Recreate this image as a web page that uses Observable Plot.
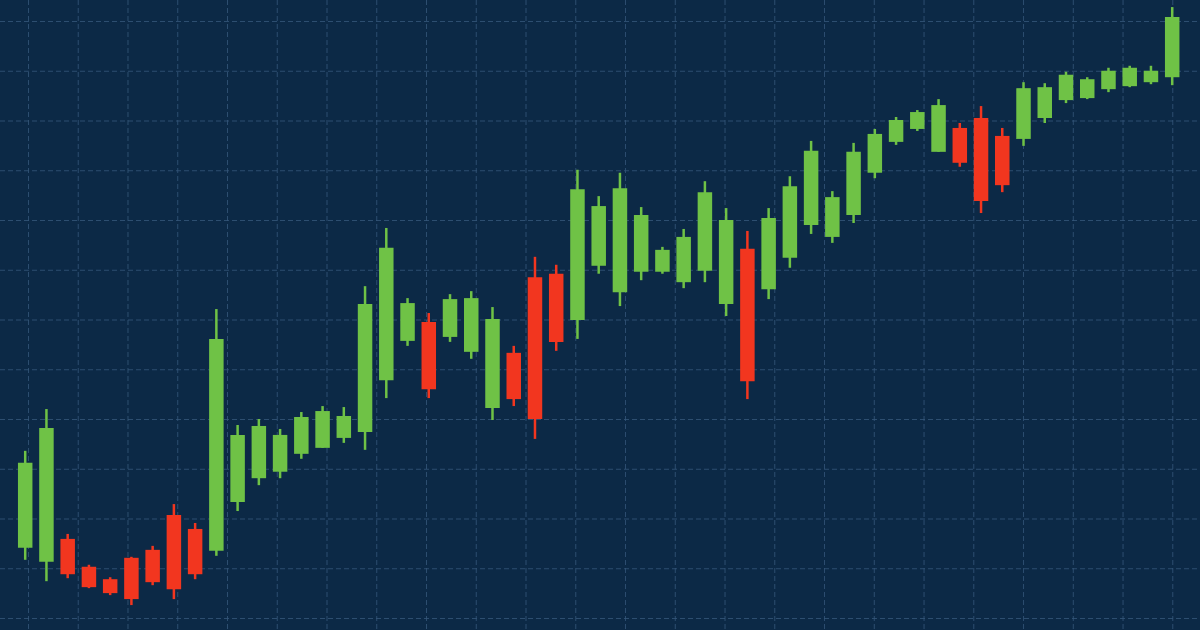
<!DOCTYPE html>
<html>
<head>
<meta charset="utf-8">
<script src="https://cdn.jsdelivr.net/npm/d3@7"></script>
<script src="https://cdn.jsdelivr.net/npm/@observablehq/plot@0.6"></script>
<style>
  html, body { margin: 0; padding: 0; background: #0c2946; overflow: hidden; }
  #chart svg { display: block; }
</style>
</head>
<body>
<div id="chart"></div>
<script>
// Trading days
const days = d3.range(1, 56);
// Open / high / low / close prices
const open  = [114.1,111.3,115.9,110.3,107.8,112.1,113.7,120.7,117.9,113.5,
               123.3,128.1,129.4,133.0,134.2,136.2,137.4,147.8,155.7,159.5,
               156.5,153.5,142.2,153.3,168.5,169.2,159.9,170.8,165.5,169.6,
               169.6,167.5,169.8,163.1,174.2,166.1,172.4,179.0,176.6,181.0,
               189.5,195.7,198.3,193.7,198.5,200.5,196.9,196.3,200.5,204.1,
               204.5,206.3,206.9,207.7,208.7];
const high  = [133.6,142.0,116.9,110.7,108.2,112.3,114.5,122.9,119.1,162.1,
               138.8,140.0,138.0,141.4,142.6,142.4,166.7,178.4,164.3,161.3,
               165.1,165.7,162.5,154.7,172.6,171.0,190.1,184.8,189.5,182.6,
               174.6,178.2,187.8,182.4,177.8,182.4,188.8,195.9,185.8,195.5,
               198.3,200.7,202.1,204.3,199.5,202.9,198.5,207.7,207.5,209.8,
               208.7,210.6,211.0,211.0,222.8];
const low   = [111.7,107.4,108.0,106.0,104.6,102.6,106.6,103.8,107.8,112.5,
               121.5,126.7,128.1,132.0,134.2,135.2,133.8,144.2,154.7,144.2,
               155.5,152.1,139.8,142.6,136.0,153.7,156.1,169.2,162.7,167.9,
               169.2,166.3,167.5,160.7,144.0,164.1,170.4,177.2,175.4,179.4,
               188.4,195.1,197.9,193.7,190.7,181.4,185.6,194.9,199.5,203.5,
               204.3,205.7,206.7,207.3,207.1];
const close = [131.2,138.2,108.8,106.2,105.0,103.8,107.2,105.8,108.8,156.1,
               136.8,138.6,136.8,140.4,141.6,140.6,163.1,174.4,163.3,146.0,
               164.1,164.3,160.1,144.0,140.0,155.5,186.2,182.8,186.4,181.0,
               174.0,176.6,185.6,180.0,147.6,180.4,186.8,193.9,184.6,193.7,
               197.3,200.1,201.7,203.1,191.5,183.8,187.0,206.5,206.7,209.2,
               208.3,210.0,210.6,210.0,220.8];
// Price grid levels
const priceGrid = d3.range(100, 221, 10);
// Time grid: one line every ~2.34 trading days
const timeGrid = d3.range(0, 24).map(k => 1.155 + k * 2.3423);

const candles = days.map((d, i) => ({
  day: d, open: open[i], high: high[i], low: low[i], close: close[i],
  up: close[i] >= open[i]
}));

const UP = "#6fc246", DOWN = "#f2361f", GRID = "#36587a";

const chart = Plot.plot({
  width: 1200,
  height: 630,
  margin: 0,
  style: { background: "#0c2946", overflow: "visible" },
  x: { domain: [1, 55], range: [24.7, 1171.7], axis: null },
  y: { domain: [100, 220], range: [618, 21], axis: null },
  marks: [
    Plot.ruleY(priceGrid, { stroke: GRID, strokeWidth: 1, strokeDasharray: "5,3", strokeOpacity: 0.8 }),
    Plot.ruleX(timeGrid, { stroke: GRID, strokeWidth: 1, strokeDasharray: "5,3", strokeOpacity: 0.8 }),
    Plot.ruleX(candles, {
      x: "day", y1: "low", y2: "high",
      stroke: d => d.up ? UP : DOWN, strokeWidth: 2.5
    }),
    Plot.ruleX(candles, {
      x: "day", y1: "open", y2: "close",
      stroke: d => d.up ? UP : DOWN, strokeWidth: 14.5
    })
  ]
});
document.getElementById("chart").appendChild(chart);
</script>
</body>
</html>
